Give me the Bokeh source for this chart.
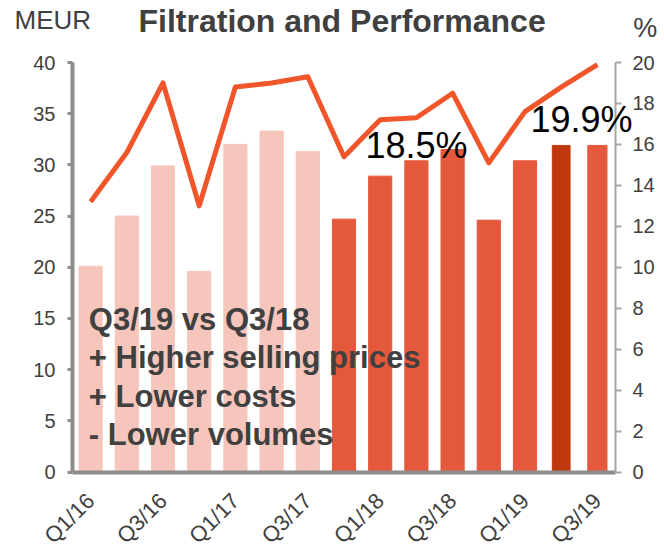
import math
from bokeh.plotting import figure
from bokeh.models import Range1d, LinearAxis, FixedTicker, Label, ColumnDataSource
from bokeh.embed import file_html
from bokeh.resources import INLINE

# ---- data ----
quarters = ["Q1/16", "Q2/16", "Q3/16", "Q4/16", "Q1/17", "Q2/17", "Q3/17", "Q4/17",
            "Q1/18", "Q2/18", "Q3/18", "Q4/18", "Q1/19", "Q2/19", "Q3/19"]
ebitda_meur = [20.1, 25.0, 29.9, 19.6, 32.0, 33.3, 31.3, 24.7,
               28.9, 30.4, 31.5, 24.6, 30.4, 31.9, 31.9]
margin_pct = [13.2, 15.6, 19.0, 13.0, 18.8, 19.0, 19.3, 15.4,
              17.2, 17.3, 18.5, 15.1, 17.6, 18.8, 19.9]
left_ticks = [0, 5, 10, 15, 20, 25, 30, 35, 40]
right_ticks = [0, 2, 4, 6, 8, 10, 12, 14, 16, 18, 20]
comment_lines = ["Q3/19 vs Q3/18", "+ Higher selling prices", "+ Lower costs", "- Lower volumes"]
title_text = "Filtration and Performance"
left_unit = "MEUR"
right_unit = "%"

# ---- styles / layout ----
PALE, RED, DARK, LINE = "#F6C6BD", "#E4583C", "#C0380E", "#F0562A"
GREY_TXT = "#404040"
FONT = "Liberation Sans"
bar_colors = [PALE] * 7 + [RED] * 6 + [DARK] + [RED]
bar_widths = [0.64] * 13 + [0.49, 0.53]

W, H = 664, 547
AX_L, AX_R, AX_T, AX_B = 72.0, 615.0, 62.0, 471.5   # axis box in pixels
n = len(quarters)
x_lo, x_hi = -0.5, n - 0.5
y_lo, y_hi = 0, 40
r_lo, r_hi = 0, 20
sx = (AX_R - AX_L) / (x_hi - x_lo)
sy = (AX_B - AX_T) / (y_hi - y_lo)
k = (r_hi - r_lo) / (y_hi - y_lo)

def dx(px):
    return x_lo + (px - AX_L) / sx

def dy(py):
    return y_lo + (AX_B - py) / sy

idx = list(range(n))
src = ColumnDataSource(dict(x=idx, top=ebitda_meur, pct=margin_pct,
                            color=bar_colors, w=bar_widths))

p = figure(width=W, height=H, output_backend="svg", toolbar_location=None,
           x_range=Range1d(dx(0), dx(W)), y_range=Range1d(dy(H), dy(0)),
           min_border=0)
p.extra_y_ranges = {"pct": Range1d(dy(H) * k, dy(0) * k)}
p.outline_line_color = None
p.grid.grid_line_color = None

p.vbar(x="x", top="top", width="w", color="color", source=src)
p.line(x="x", y="pct", source=src, y_range_name="pct", line_width=5,
       line_color=LINE, line_join="round")

# left axis
ya = p.yaxis[0]
ya.fixed_location = x_lo
ya.bounds = (y_lo, y_hi)
ya.ticker = FixedTicker(ticks=left_ticks)
ya.axis_line_width = 4
ya.axis_line_color = "#8c8c8c"
ya.major_tick_out = 5
ya.major_tick_in = 0
ya.major_tick_line_width = 3
ya.major_tick_line_color = "#8c8c8c"
ya.minor_tick_line_color = None
ya.major_label_text_font = FONT
ya.major_label_text_font_size = "20px"
ya.major_label_text_color = GREY_TXT
ya.major_label_standoff = 12

# right axis
ra = LinearAxis(y_range_name="pct", ticker=FixedTicker(ticks=right_ticks))
ra.fixed_location = x_hi
ra.bounds = (r_lo, r_hi)
ra.axis_line_width = 2
ra.axis_line_color = "#a6a6a6"
ra.major_tick_out = 6
ra.major_tick_in = 0
ra.major_tick_line_width = 2
ra.major_tick_line_color = "#a6a6a6"
ra.minor_tick_line_color = None
ra.major_label_text_font = FONT
ra.major_label_text_font_size = "20px"
ra.major_label_text_color = GREY_TXT
ra.major_label_standoff = 11
p.add_layout(ra, "right")

# bottom axis
xa = p.xaxis[0]
xa.fixed_location = y_lo
xa.bounds = (x_lo, x_hi)
shown = idx[::2]
xa.ticker = FixedTicker(ticks=shown)
xa.major_label_overrides = {i: quarters[i] for i in shown}
xa.axis_line_width = 4
xa.axis_line_color = "#8c8c8c"
xa.major_tick_out = 0
xa.major_tick_in = 0
xa.minor_tick_line_color = None
xa.major_label_orientation = math.pi / 4
xa.major_label_text_font = FONT
xa.major_label_text_font_size = "22px"
xa.major_label_text_color = GREY_TXT
xa.major_label_standoff = 25

# texts (py = wanted baseline in pixels; Bokeh draws ~0.35em lower, so compensate)
def lab(px, py, text, size, color=GREY_TXT, style="normal", align="left"):
    fs = float(size.replace("px", ""))
    p.add_layout(Label(x=dx(px), y=dy(py - 0.35 * fs), text=text, text_font=FONT,
                       text_font_size=size, text_color=color, text_font_style=style,
                       text_align=align, text_baseline="alphabetic"))

lab(138, 31.7, title_text, "32px", style="bold")
lab(14, 28.3, left_unit, "26px")
lab(632.7, 36.7, right_unit, "27px")

for line, py in zip(comment_lines, [329.5, 368.0, 406.5, 445.0]):
    lab(88.3, py, line, "31px", style="bold")

lab(416, 158, f"{margin_pct[10]:.1f}%", "36px", color="black", align="center")
lab(581, 131.7, f"{margin_pct[14]:.1f}%", "36px", color="black", align="center")

open("out.html", "w").write(file_html(p, INLINE))
